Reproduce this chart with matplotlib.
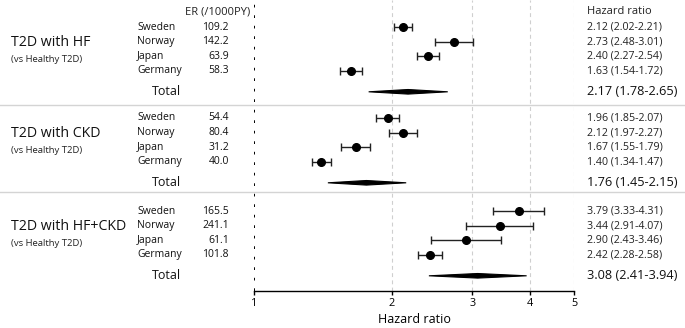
import numpy as np
import matplotlib.pyplot as plt
from matplotlib.patches import Polygon
from matplotlib.lines import Line2D
from matplotlib.transforms import blended_transform_factory

plt.rcParams['font.family'] = ['Open Sans', 'DejaVu Sans']

# ---------- data ----------
groups = ["T2D with HF", "T2D with CKD", "T2D with HF+CKD"]
group_sub = "(vs Healthy T2D)"
countries = ["Sweden", "Norway", "Japan", "Germany"]

er_hf = [109.2, 142.2, 63.9, 58.3]
er_ckd = [54.4, 80.4, 31.2, 40.0]
er_hfckd = [165.5, 241.1, 61.1, 101.8]

hr_hf = [2.12, 2.73, 2.40, 1.63]
lo_hf = [2.02, 2.48, 2.27, 1.54]
hi_hf = [2.21, 3.01, 2.54, 1.72]

hr_ckd = [1.96, 2.12, 1.67, 1.40]
lo_ckd = [1.85, 1.97, 1.55, 1.34]
hi_ckd = [2.07, 2.27, 1.79, 1.47]

hr_hfckd = [3.79, 3.44, 2.90, 2.42]
lo_hfckd = [3.33, 2.91, 2.43, 2.28]
hi_hfckd = [4.31, 4.07, 3.46, 2.58]

tot_hr = [2.17, 1.76, 3.08]
tot_lo = [1.78, 1.45, 2.41]
tot_hi = [2.65, 2.15, 3.94]

x_ticks = [1, 2, 3, 4, 5]

er_all = [er_hf, er_ckd, er_hfckd]
hr_all = [hr_hf, hr_ckd, hr_hfckd]
lo_all = [lo_hf, lo_ckd, lo_hfckd]
hi_all = [hi_hf, hi_ckd, hi_hfckd]

# ---------- layout (pixel-like row units, top = 0) ----------
W, H = 685, 328
group_top = [27, 118, 211]
row_step = 14.6
total_gap = 21
separators = [105, 192]
axis_y = 291

fig = plt.figure(figsize=(W / 100, H / 100), dpi=100)
ax = fig.add_axes([254 / W, (H - axis_y) / H, 320 / W, axis_y / H])
ax.set_xscale("log")
ax.set_xlim(1, 5)
ax.set_ylim(axis_y, 0)

tr = blended_transform_factory(fig.transFigure, ax.transData)
fx = lambda px: px / W

for xv in x_ticks[1:]:
    ax.axvline(xv, color="#cfcfcf", ls=(0, (3.5, 3)), lw=0.8, zorder=0)
ax.axvline(1, color="black", ls=(0, (1.4, 4)), lw=1.4, zorder=1)

for sy in separators:
    fig.add_artist(Line2D([0, 1], [sy, sy], transform=tr, color="#d4d4d4", lw=1.0))

ax.text(fx(185), 12, "ER (/1000PY)", transform=tr, fontsize=8.0, va="center", ha="left", color="#222")
ax.text(fx(587), 12, "Hazard ratio", transform=tr, fontsize=8.0, va="center", ha="left", color="#222")

for g, name in enumerate(groups):
    ys = [group_top[g] + i * row_step for i in range(len(countries))]
    yt = ys[-1] + total_gap

    ax.text(fx(11), ys[1] + 1, name, transform=tr, fontsize=10.2, va="center", ha="left", color="#111")
    ax.text(fx(11), ys[1] + 18, group_sub, transform=tr, fontsize=6.8, va="center", ha="left", color="#222")

    hr = np.array(hr_all[g])
    lo = np.array(lo_all[g])
    hi = np.array(hi_all[g])
    ax.errorbar(hr, ys, xerr=[hr - lo, hi - hr], fmt="o", ms=5.5, color="black",
                ecolor="#222", elinewidth=1.0, capsize=3, capthick=1.0, zorder=3)

    for y, c, er, h, l, u in zip(ys, countries, er_all[g], hr, lo, hi):
        ax.text(fx(137), y, c, transform=tr, fontsize=7.5, va="center", ha="left", color="#111")
        ax.text(fx(229), y, f"{er:.1f}", transform=tr, fontsize=7.5, va="center", ha="right", color="#111")
        ax.text(fx(587), y, f"{h:.2f} ({l:.2f}-{u:.2f})", transform=tr, fontsize=7.7,
                va="center", ha="left", color="#222")

    ax.text(fx(167), yt, "Total", transform=tr, fontsize=9, va="center", ha="center", color="#111")
    ax.text(fx(587), yt, f"{tot_hr[g]:.2f} ({tot_lo[g]:.2f}-{tot_hi[g]:.2f})", transform=tr,
            fontsize=9.2, va="center", ha="left", color="#111")
    dia = Polygon([[tot_lo[g], yt], [tot_hr[g], yt - 2.3], [tot_hi[g], yt], [tot_hr[g], yt + 2.3]],
                  closed=True, facecolor="black", edgecolor="black", lw=0.8, zorder=3)
    ax.add_patch(dia)

for s in ["top", "right", "left"]:
    ax.spines[s].set_visible(False)
ax.spines["bottom"].set_linewidth(1.0)
ax.set_yticks([])
ax.set_xticks(x_ticks)
ax.set_xticklabels([str(t) for t in x_ticks])
ax.xaxis.set_minor_locator(plt.NullLocator())
ax.tick_params(axis="x", direction="out", length=3, width=1.0, labelsize=7.8, pad=2)
ax.set_xlabel("Hazard ratio", fontsize=9, labelpad=3)

fig.savefig("out.png", dpi=100)
